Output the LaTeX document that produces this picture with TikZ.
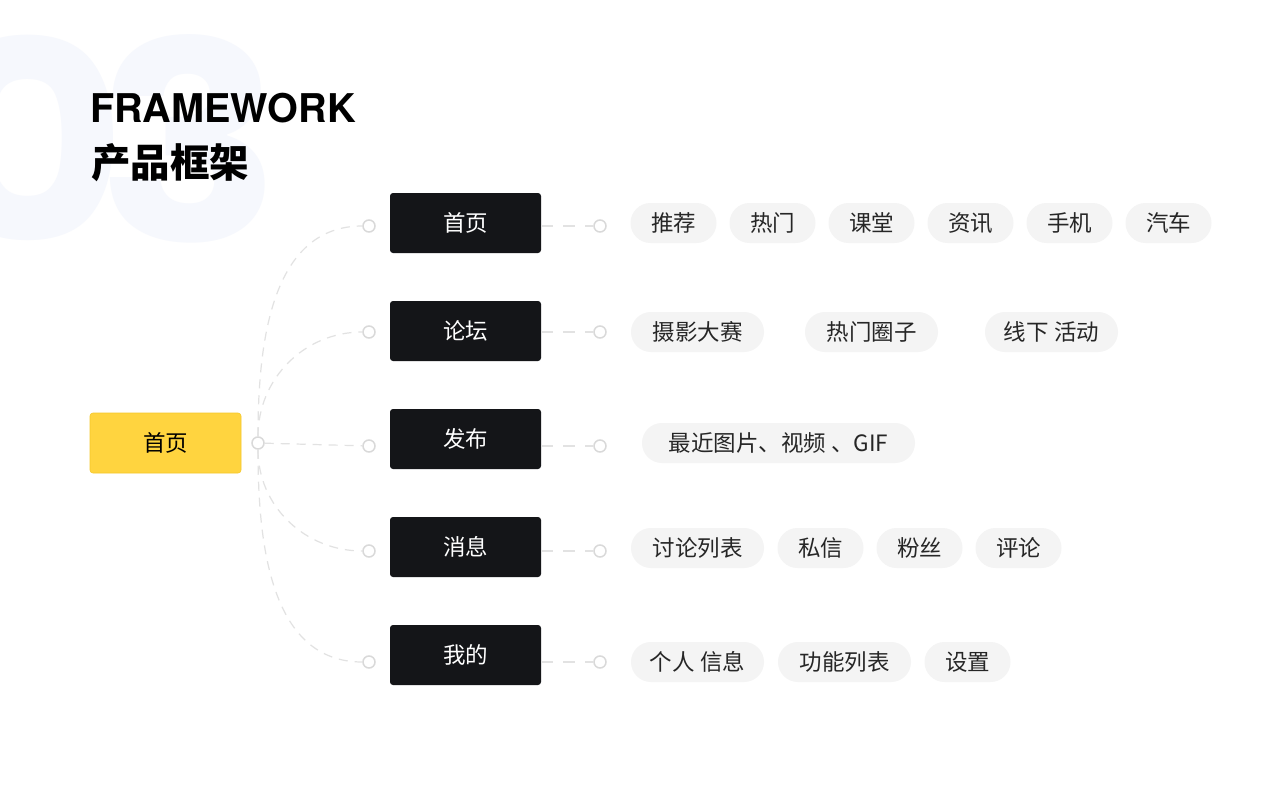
\documentclass[tikz,border=0pt]{standalone}
\usepackage{fontspec}
\setmainfont{Noto Sans CJK SC}
\newfontfamily\heros{TeX Gyre Heros}
\newfontfamily\popb{Poppins}
\definecolor{bgnumc}{HTML}{F6F8FD}
\definecolor{rootc}{HTML}{FFD43F}
\definecolor{rootline}{HTML}{F5C82A}
\definecolor{darkc}{HTML}{141518}
\definecolor{pillc}{HTML}{F4F4F4}
\definecolor{pilltext}{HTML}{262626}
\definecolor{dotc}{HTML}{D9D9D9}
\definecolor{linec}{HTML}{E2E2E2}
\begin{document}
\begin{tikzpicture}[x=1pt,y=-1pt,
  bgnum/.style={inner sep=0pt, text=bgnumc, font=\popb\bfseries\fontsize{277}{277}\selectfont},
  rootbox/.style={rectangle, rounded corners=3pt, fill=rootc, draw=rootline, line width=0.6pt,
    minimum width=151pt, minimum height=60pt, inner sep=0pt, text=black,
    font=\fontsize{22.5}{26}\selectfont},
  darkbox/.style={rectangle, rounded corners=3pt, fill=darkc, minimum width=151pt,
    minimum height=60pt, inner sep=0pt, text=white, font=\fontsize{22.5}{26}\selectfont},
  pill/.style={rectangle, rounded corners=20pt, fill=pillc, minimum height=40pt,
    inner sep=0pt, text=pilltext, font=\fontsize{22.5}{26}\selectfont},
  dot/.style={circle, draw=dotc, fill=white, line width=1.5pt, minimum size=12pt, inner sep=0pt},
  dashline/.style={draw=linec, line width=1.2pt, dash pattern=on 9pt off 7pt},
]
\fill[white] (0,0) rectangle (1280,800);
\useasboundingbox (0,0) rectangle (1280,800);
\begin{scope}
\clip (0,0) rectangle (1280,800);
\node[bgnum, anchor=base east] (n0) at (127,241) {\scalebox{1.1}[1]{0}};
\node[bgnum, anchor=base east] (n3) at (282,241) {\scalebox{1.1}[1]{3}};
\end{scope}

% titles
\node[anchor=base west, inner sep=0pt, font=\heros\bfseries\fontsize{39.6}{44}\selectfont] (t1) at (90,122) {FRAMEWORK};
\node[anchor=west, inner sep=0pt, font=\bfseries\fontsize{39.5}{44}\selectfont] (t2) at (91,163) {产品框架};

% root
\node[rootbox] (root) at (165.5,443) {首页};
\node[dot] (rc) at (258,443) {};

% second level
\node[darkbox] (b1) at (465.5,223) {首页};
\node[darkbox] (b2) at (465.5,331) {论坛};
\node[darkbox] (b3) at (465.5,439) {发布};
\node[darkbox] (b4) at (465.5,547) {消息};
\node[darkbox] (b5) at (465.5,655) {我的};

\foreach \i/\y in {1/226,2/332,3/446,4/551,5/662}{
  \node[dot] (l\i) at (369,\y) {};
  \node[dot] (r\i) at (600,\y) {};
}

% connectors root -> left dots
\draw[dashline] (rc) to[out=90,in=180] (l1);
\draw[dashline] (rc) to[out=90,in=180] (l2);
\draw[dashline] (rc) -- (l3);
\draw[dashline] (rc) to[out=-90,in=180] (l4);
\draw[dashline] (rc) to[out=-90,in=180] (l5);

% box -> right dots
\foreach \i in {1,...,5}{
  \draw[dashline, dash pattern=on 12pt off 10pt] (b\i.east |- r\i) -- (r\i);
}

% pills row 1
\node[pill, minimum width=86pt] (p11) at (673.5,223) {推荐};
\node[pill, minimum width=86pt] (p12) at (772.5,223) {热门};
\node[pill, minimum width=86pt] (p13) at (871.5,223) {课堂};
\node[pill, minimum width=86pt] (p14) at (970.5,223) {资讯};
\node[pill, minimum width=86pt] (p15) at (1069.5,223) {手机};
\node[pill, minimum width=86pt] (p16) at (1168.5,223) {汽车};
% row 2
\node[pill, minimum width=133pt] (p21) at (697.5,332) {摄影大赛};
\node[pill, minimum width=133pt] (p22) at (871.5,332) {热门圈子};
\node[pill, minimum width=133pt] (p23) at (1051.5,332) {线下 活动};
% row 3
\node[pill, minimum width=273pt] (p31) at (778.5,443) {最近图片、视频 、GIF};
% row 4
\node[pill, minimum width=133pt] (p41) at (697.5,548) {讨论列表};
\node[pill, minimum width=86pt] (p42) at (820.5,548) {私信};
\node[pill, minimum width=86pt] (p43) at (919.5,548) {粉丝};
\node[pill, minimum width=86pt] (p44) at (1018.5,548) {评论};
% row 5
\node[pill, minimum width=133pt] (p51) at (697.5,662) {个人 信息};
\node[pill, minimum width=133pt] (p52) at (844.5,662) {功能列表};
\node[pill, minimum width=86pt] (p53) at (967.5,662) {设置};
\end{tikzpicture}
\end{document}
